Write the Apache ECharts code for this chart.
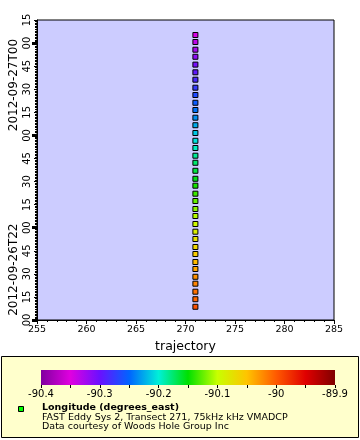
<!DOCTYPE html>
<html>
<head>
<meta charset="utf-8">
<script src="https://cdn.jsdelivr.net/npm/echarts@6/dist/echarts.min.js"></script>
<style>
html,body{margin:0;padding:0;background:#fff;}
#chart{width:360px;height:440px;}
</style>
</head>
<body>
<div id="chart"></div>
<script>
// ---- data ----
const trajectory = [271,271,271,271,271,271,271,271,271,271,271,271,271,271,271,271,271,271,271,271,271,271,271,271,271,271,271,271,271,271,271,271,271,271,271,271,271];
const times = [
  '2012-09-26T21:08:36Z','2012-09-26T21:13:30Z','2012-09-26T21:18:24Z','2012-09-26T21:23:36Z',
  '2012-09-26T21:28:06Z','2012-09-26T21:33:09Z','2012-09-26T21:37:42Z','2012-09-26T21:42:54Z',
  '2012-09-26T21:47:27Z','2012-09-26T21:52:39Z','2012-09-26T21:57:24Z','2012-09-26T22:02:24Z',
  '2012-09-26T22:07:36Z','2012-09-26T22:12:09Z','2012-09-26T22:17:21Z','2012-09-26T22:22:06Z',
  '2012-09-26T22:27:18Z','2012-09-26T22:31:48Z','2012-09-26T22:37:00Z','2012-09-26T22:42:12Z',
  '2012-09-26T22:46:48Z','2012-09-26T22:51:48Z','2012-09-26T22:56:30Z','2012-09-26T23:01:33Z',
  '2012-09-26T23:06:36Z','2012-09-26T23:11:30Z','2012-09-26T23:16:30Z','2012-09-26T23:21:12Z',
  '2012-09-26T23:26:15Z','2012-09-26T23:31:00Z','2012-09-26T23:36:12Z','2012-09-26T23:41:00Z',
  '2012-09-26T23:46:00Z','2012-09-26T23:51:06Z','2012-09-26T23:55:42Z','2012-09-27T00:00:42Z',
  '2012-09-27T00:05:15Z'
];
const longitude = [
  -89.995,-90.005,-90.010,-90.020,-90.025,-90.035,-90.045,-90.055,-90.065,-90.075,
  -90.085,-90.095,-90.105,-90.115,-90.125,-90.135,-90.145,-90.155,-90.165,-90.175,
  -90.185,-90.195,-90.205,-90.215,-90.225,-90.235,-90.245,-90.255,-90.265,-90.275,
  -90.285,-90.295,-90.305,-90.315,-90.325,-90.335,-90.345
];
// axes / ticks
const xRange = [255, 285];
const timeRange = ['2012-09-26T21:00:00Z', '2012-09-27T00:15:00Z'];
const hourTicks = ['2012-09-26T21:00:00Z','2012-09-26T22:00:00Z','2012-09-26T23:00:00Z','2012-09-27T00:00:00Z'];
const dateLabelTicks = ['2012-09-26T22:00:00Z','2012-09-27T00:00:00Z'];
const colorRange = [-90.4, -89.9];
const paletteColors = ['#80009f','#e000e0','#6a10ff','#0064ff','#00f0d8','#00e000','#c8ff00','#ffc400','#ff5a00','#e00000','#800000'];
const legendTitle = 'Longitude (degrees_east)';
const legendLines = ['FAST Eddy Sys 2, Transect 271, 75kHz kHz VMADCP', 'Data courtesy of Woods Hole Group Inc'];

// ---- build ----
const FONT = 'DejaVu Sans';
const MIN15 = 15 * 60 * 1000;
const tMin = Date.parse(timeRange[0]);
const tMax = Date.parse(timeRange[1]);
const pad2 = n => (n < 10 ? '0' : '') + n;
const points = times.map((t, i) => [trajectory[i], Date.parse(t), longitude[i]]);

const chart = echarts.init(document.getElementById('chart'), null, {renderer: 'canvas'});
const gradient = new echarts.graphic.LinearGradient(0, 0, 1, 0,
  paletteColors.map((c, i) => ({offset: i / (paletteColors.length - 1), color: c})));

const option = {
  animation: false,
  backgroundColor: '#ffffff',
  textStyle: {fontFamily: FONT},
  grid: [
    {left: 37, right: 26, top: 20, bottom: 120, show: true, backgroundColor: '#ccccff',
     borderColor: '#000', borderWidth: 1},
    {left: 41, width: 294, top: 370, height: 15, show: true, backgroundColor: gradient, borderWidth: 0}
  ],
  xAxis: [
    {type: 'value', gridIndex: 0, min: xRange[0], max: xRange[1], interval: 5,
     name: 'trajectory', nameLocation: 'middle', nameGap: 20,
     nameTextStyle: {fontFamily: FONT, fontSize: 12.5, color: '#000'},
     axisLine: {show: true, lineStyle: {color: '#000', width: 1}},
     axisTick: {show: true, length: 4, inside: false, lineStyle: {color: '#000'}},
     minorTick: {show: true, splitNumber: 5, length: 2, lineStyle: {color: '#000'}},
     axisLabel: {fontFamily: FONT, fontSize: 9.5, color: '#000', margin: 5},
     splitLine: {show: false}},
    {type: 'value', gridIndex: 1, min: colorRange[0], max: colorRange[1], interval: 0.1,
     axisLine: {show: false},
     axisTick: {show: true, length: 3, lineStyle: {color: '#000'}},
     minorTick: {show: true, splitNumber: 2, length: 3, lineStyle: {color: '#000'}},
     axisLabel: {fontFamily: FONT, fontSize: 10, color: '#000', margin: 4,
       formatter: v => String(Math.round(v * 10) / 10)},
     splitLine: {show: false}}
  ],
  yAxis: [
    {type: 'value', gridIndex: 0, min: tMin, max: tMax, interval: MIN15, position: 'left',
     axisLine: {show: true, lineStyle: {color: '#000'}},
     axisTick: {show: true, length: 3, lineStyle: {color: '#000'}},
     minorTick: {show: true, splitNumber: 15, length: 2, lineStyle: {color: '#000'}},
     axisLabel: {fontFamily: FONT, fontSize: 10, color: '#000', rotate: 90, margin: 5,
       formatter: v => pad2(new Date(v).getUTCMinutes())},
     splitLine: {show: false}},
    {type: 'value', gridIndex: 0, min: tMin, max: tMax, position: 'left', offset: 0,
     axisLine: {show: false},
     axisTick: {show: true, length: 5, lineStyle: {color: '#000', width: 3},
       customValues: hourTicks.map(Date.parse)},
     axisLabel: {fontFamily: FONT, fontSize: 12, color: '#000', rotate: 90, margin: 17,
       padding: [0, 84, 0, 0],
       customValues: dateLabelTicks.map(Date.parse),
       formatter: v => {
         const d = new Date(v);
         return d.getUTCFullYear() + '-' + pad2(d.getUTCMonth() + 1) + '-' + pad2(d.getUTCDate()) + 'T' + pad2(d.getUTCHours());
       }},
     splitLine: {show: false}},
    {type: 'value', gridIndex: 1, min: 0, max: 1, show: false}
  ],
  visualMap: {
    show: false, type: 'continuous', seriesIndex: 0, dimension: 2,
    min: colorRange[0], max: colorRange[1],
    inRange: {color: paletteColors}
  },
  graphic: [
    {type: 'rect', left: 1, top: 356, z: -10, shape: {width: 357, height: 81},
     style: {fill: '#ffffcc', stroke: '#000', lineWidth: 1}},
    {type: 'rect', left: 18, top: 406, z: 10, shape: {width: 5, height: 5},
     style: {fill: '#00ff00', stroke: '#000', lineWidth: 1}},
    {type: 'text', left: 42, top: 403, z: 10,
     style: {text: legendTitle, font: 'bold 9.5px "DejaVu Sans"', fill: '#000'}},
    {type: 'text', left: 42, top: 413, z: 10,
     style: {text: legendLines[0], font: '9.5px "DejaVu Sans"', fill: '#000'}},
    {type: 'text', left: 42, top: 422, z: 10,
     style: {text: legendLines[1], font: '9.5px "DejaVu Sans"', fill: '#000'}}
  ],
  series: [
    {type: 'scatter', xAxisIndex: 0, yAxisIndex: 0, symbol: 'rect', symbolSize: 5,
     data: points,
     itemStyle: {borderColor: '#000', borderWidth: 1, opacity: 1},
     emphasis: {disabled: true}}
  ]
};
chart.setOption(option);
</script>
</body>
</html>
